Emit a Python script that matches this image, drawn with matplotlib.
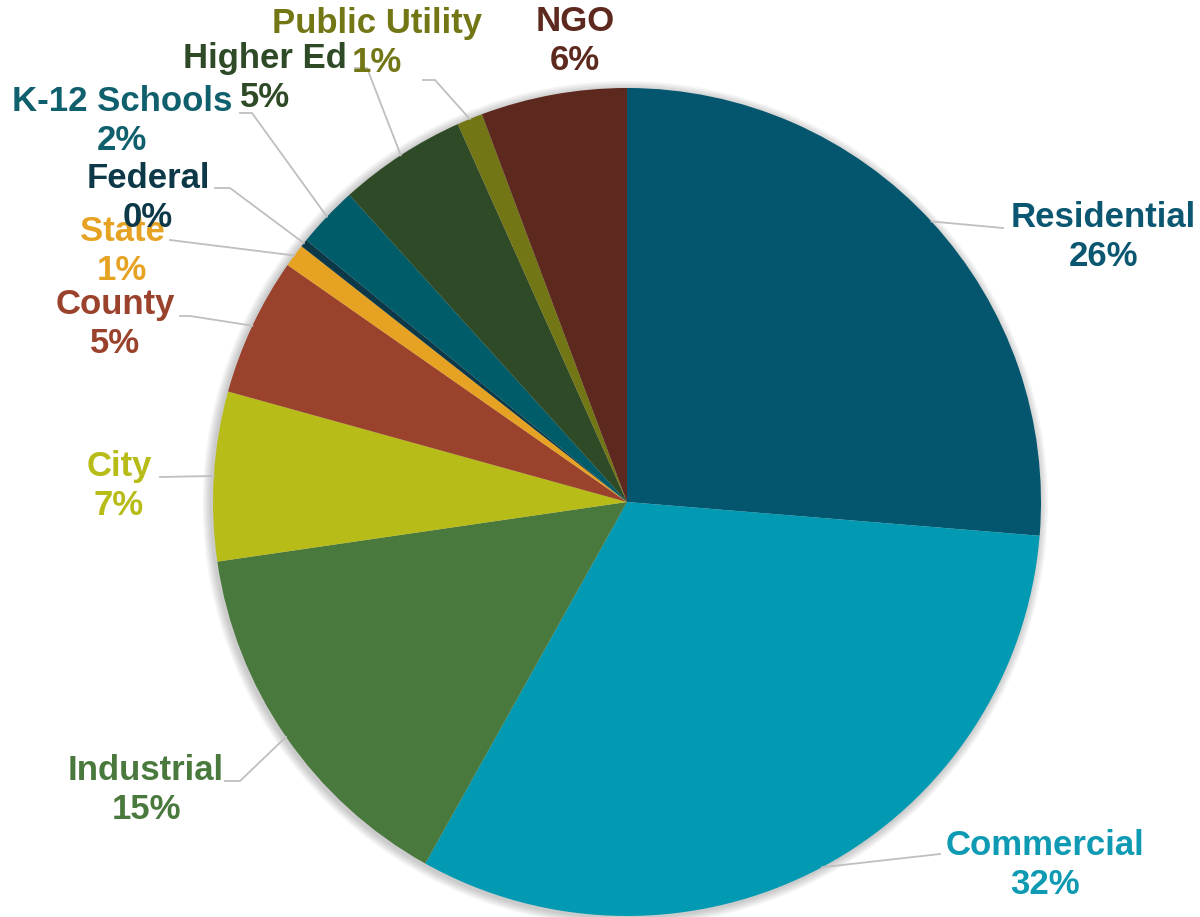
import matplotlib.pyplot as plt
from matplotlib.patches import Circle
import numpy as np

categories = ['Residential', 'Commercial', 'Industrial', 'City', 'County', 'State',
              'Federal', 'K-12 Schools', 'Higher Ed', 'Public Utility', 'NGO']
shares = [26.3, 31.8, 14.6, 6.6, 5.4, 0.9, 0.3, 2.4, 5.0, 1.0, 5.7]

colors = ['#03566E', '#029AB2', '#4A793D', '#B8BC18', '#9B422D', '#E6A323',
          '#0C3848', '#015C69', '#2F4A26', '#737615', '#5D291E']
text_colors = ['#0B5670', '#0E9AB3', '#4A793D', '#B8BC18', '#9B422D', '#E6A323',
               '#0C3848', '#0F5F6D', '#2F4A26', '#737615', '#5D291E']

# label layout in pixel coords: text centre, line end near label, elbow dx
CX, CY, R = 627, 502, 414
label_pos = [(1103, 237), (1045, 865), (146, 790), (119, 486), (115, 324), (122, 251),
             (148, 198), (122, 121), (265, 78), (377, 43), (575, 41)]
line_end = [(1003, 228), (940, 854), (225, 781), (160, 477), (180, 316), (170, 240),
            (215, 188), (240, 113), (355, 68), (423, 80), None]
elbow_dx = [0, 0, 15, 0, 10, 0, 15, 12, 12, 12, 0]


def px(x, y):
    return (x - CX) / R, (CY - y) / R


fig = plt.figure(figsize=(12, 9.17), dpi=100)
ax = fig.add_axes([0, 0, 1, 1])

# soft shadow around the pie
for k in range(1, 7):
    ax.add_patch(Circle((-0.004, -0.004), 1 + k * 0.0035, color='black',
                        alpha=0.035, lw=0, zorder=0))

wedges, _ = ax.pie(shares, colors=colors, startangle=90, counterclock=False,
                   radius=1, wedgeprops=dict(linewidth=0))
for w in wedges:
    w.set_zorder(2)

ax.set_xlim(-CX / R, (1200 - CX) / R)
ax.set_ylim(-(917 - CY) / R, CY / R)
ax.set_aspect('equal', adjustable='datalim')
ax.axis('off')

for i, (cat, val, w) in enumerate(zip(categories, shares, wedges)):
    tx, ty = px(*label_pos[i])
    ax.text(tx, ty, f"{cat}\n{round(val):.0f}%", ha='center', va='center',
            fontsize=25, fontweight='bold', family='Liberation Sans',
            color=text_colors[i], linespacing=1.25, zorder=5 + i)
    if line_end[i] is None:
        continue
    mid = np.deg2rad((w.theta1 + w.theta2) / 2)
    ex, ey = np.cos(mid), np.sin(mid)
    lx, ly = px(*line_end[i])
    side = 1 if lx > 0 else -1
    bx = lx - side * elbow_dx[i] / R
    ax.plot([ex, bx, lx], [ey, ly, ly], color='#BFBFBF', lw=1.3, zorder=3)

fig.savefig('out.png', dpi=100)
